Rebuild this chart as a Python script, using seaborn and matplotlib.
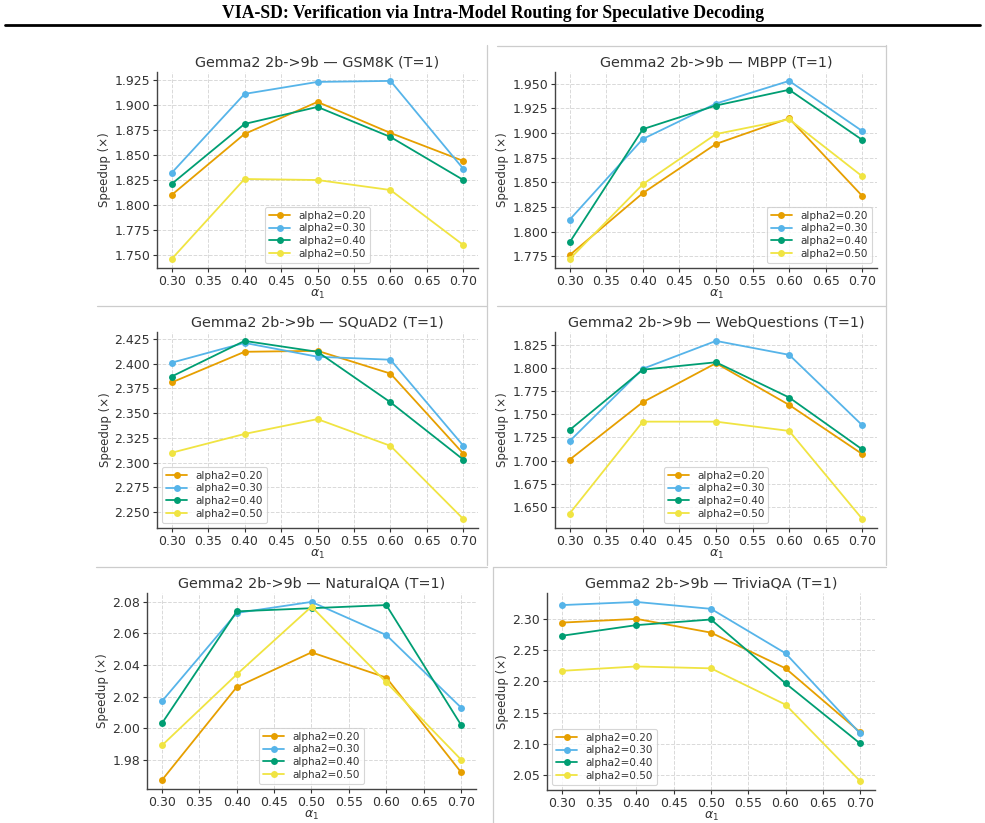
import numpy as np
import pandas as pd
import matplotlib
matplotlib.use("Agg")
import matplotlib.pyplot as plt
from matplotlib.lines import Line2D
from matplotlib.ticker import MultipleLocator
import seaborn as sns

# ---------------------------
# Data
# ---------------------------
alpha1 = [0.30, 0.40, 0.50, 0.60, 0.70]
alpha2_labels = ["alpha2=0.20", "alpha2=0.30", "alpha2=0.40", "alpha2=0.50"]
colors = ["#E69F00", "#56B4E9", "#009E73", "#F0E442"]

gsm8k = [
    [1.810, 1.871, 1.903, 1.872, 1.844],
    [1.832, 1.911, 1.923, 1.924, 1.836],
    [1.821, 1.881, 1.898, 1.868, 1.825],
    [1.746, 1.826, 1.825, 1.815, 1.760],
]
mbpp = [
    [1.776, 1.839, 1.889, 1.915, 1.836],
    [1.812, 1.894, 1.930, 1.953, 1.902],
    [1.789, 1.904, 1.928, 1.944, 1.893],
    [1.772, 1.848, 1.899, 1.914, 1.856],
]
squad2 = [
    [2.381, 2.412, 2.413, 2.390, 2.309],
    [2.401, 2.421, 2.407, 2.404, 2.317],
    [2.387, 2.423, 2.412, 2.361, 2.303],
    [2.310, 2.329, 2.344, 2.317, 2.243],
]
webq = [
    [1.701, 1.763, 1.805, 1.760, 1.707],
    [1.721, 1.799, 1.829, 1.814, 1.738],
    [1.733, 1.798, 1.806, 1.768, 1.712],
    [1.643, 1.742, 1.742, 1.732, 1.637],
]
naturalqa = [
    [1.967, 2.026, 2.048, 2.032, 1.972],
    [2.017, 2.073, 2.080, 2.059, 2.013],
    [2.003, 2.074, 2.076, 2.078, 2.002],
    [1.989, 2.034, 2.077, 2.029, 1.980],
]
triviaqa = [
    [2.294, 2.300, 2.278, 2.221, 2.119],
    [2.322, 2.327, 2.316, 2.245, 2.117],
    [2.273, 2.290, 2.299, 2.197, 2.101],
    [2.217, 2.224, 2.221, 2.163, 2.041],
]

datasets = ["GSM8K", "MBPP", "SQuAD2", "WebQuestions", "NaturalQA", "TriviaQA"]
all_values = [gsm8k, mbpp, squad2, webq, naturalqa, triviaqa]
y_steps = [0.025, 0.025, 0.025, 0.025, 0.02, 0.05]
legend_locs = ["lower center", "lower right", "lower left",
               "lower center", "lower center", "lower left"]

# ---------------------------
# Style
# ---------------------------
sns.set_theme(style="whitegrid")
plt.rcParams.update({
    "font.family": ["DejaVu Sans"],
    "grid.linestyle": "--",
    "grid.color": "#d9d9d9",
    "grid.linewidth": 0.7,
    "axes.edgecolor": "#444444",
    "axes.linewidth": 1.0,
    "text.color": "#333333",
    "axes.labelcolor": "#333333",
    "xtick.color": "#333333",
    "ytick.color": "#333333",
    "xtick.bottom": True,
    "ytick.left": True,
    "xtick.major.size": 3,
    "ytick.major.size": 3,
    "xtick.major.width": 0.8,
    "ytick.major.width": 0.8,
})

W, H = 985, 823
fig = plt.figure(figsize=(W / 100, H / 100), dpi=100)

# axes boxes in pixels: left, top, right, bottom
boxes = [
    (157, 72, 478, 268),
    (555, 72, 877, 268),
    (157, 332, 478, 528),
    (555, 332, 877, 528),
    (147, 593, 476, 789),
    (547, 593, 875, 790),
]

xt = np.arange(0.30, 0.701, 0.05)

for i, (name, vals) in enumerate(zip(datasets, all_values)):
    l, t, r, b = boxes[i]
    ax = fig.add_axes([l / W, 1 - b / H, (r - l) / W, (b - t) / H])
    for lab, c, v in zip(alpha2_labels, colors, vals):
        sns.lineplot(x=alpha1, y=v, color=c, marker="o", markersize=5,
                     markeredgewidth=0, linewidth=1.3, ax=ax, legend=False)
    ax.set_xticks(xt)
    ax.set_xticklabels([f"{x:.2f}" for x in xt])
    ax.yaxis.set_major_locator(MultipleLocator(y_steps[i]))
    ax.tick_params(labelsize=9, pad=2)
    ax.set_title(f"Gemma2 2b->9b — {name} (T=1)", fontsize=10.4, pad=4)
    ax.set_xlabel(r"$\alpha_1$", fontsize=9, labelpad=0)
    ax.set_ylabel("Speedup (×)", fontsize=8.5, labelpad=2)
    for s in ["top", "right"]:
        ax.spines[s].set_visible(False)
    leg = ax.legend(ax.lines, alpha2_labels, loc=legend_locs[i], fontsize=7.5,
                    frameon=True, borderpad=0.4, labelspacing=0.25,
                    handlelength=2.0)
    leg.get_frame().set_edgecolor("#cccccc")
    leg.get_frame().set_linewidth(0.8)

# header
fig.text(0.5, 1 - 13 / H, "VIA-SD: Verification via Intra-Model Routing for Speculative Decoding",
         ha="center", va="center", fontsize=12.7, fontweight="bold",
         family=["Liberation Serif", "DejaVu Serif"], color="black")
fig.add_artist(Line2D([5 / W, 980 / W], [1 - 25 / H, 1 - 25 / H],
                      color="black", linewidth=2.0))

# light borders of the panel images
def seg(x0, y0, x1, y1):
    fig.add_artist(Line2D([x0 / W, x1 / W], [1 - y0 / H, 1 - y1 / H],
                          color="#cccccc", linewidth=0.9))

seg(487, 45, 487, 565)
seg(497, 45.5, 886, 45.5)
seg(886, 45, 886, 565)
seg(97, 306, 487, 306)
seg(497, 306, 886, 306)
seg(96, 567, 487, 567)
seg(493, 567, 886, 567)
seg(493, 567, 493, 823)

fig.savefig("out.png", dpi=100)
